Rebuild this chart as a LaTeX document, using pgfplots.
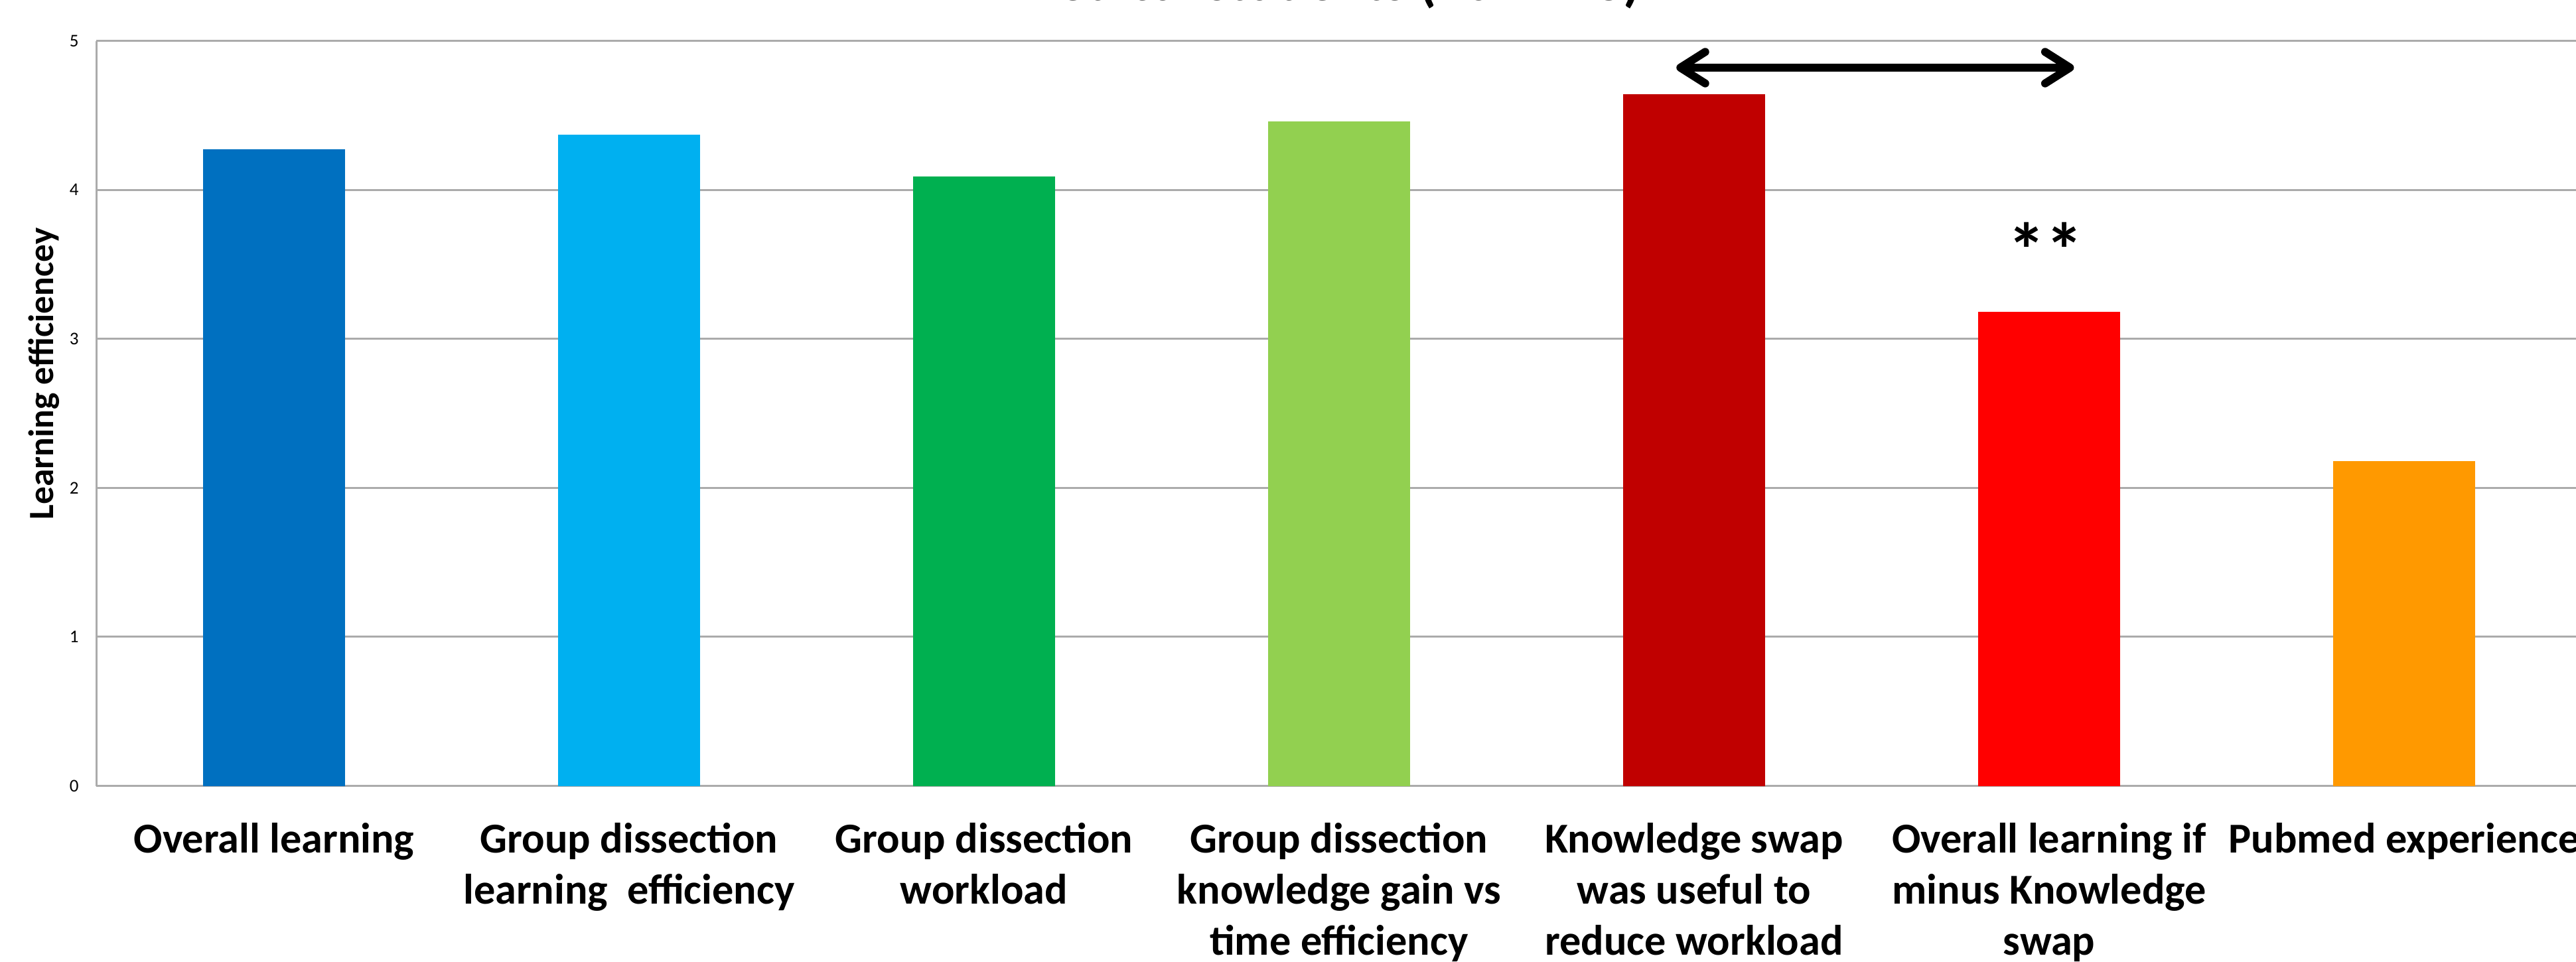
\documentclass[border=0pt]{standalone}
\usepackage{fontspec}
\setmainfont{Carlito}
\usepackage{pgfplots}
\pgfplotsset{compat=1.18}
\usetikzlibrary{arrows.meta}

\definecolor{gridgray}{HTML}{ABABAB}
\definecolor{cA}{HTML}{0070C0}
\definecolor{cB}{HTML}{00B0F0}
\definecolor{cC}{HTML}{00B050}
\definecolor{cD}{HTML}{92D050}
\definecolor{cE}{HTML}{C00000}
\definecolor{cF}{HTML}{FF0000}
\definecolor{cG}{HTML}{FF9900}

\begin{document}
\begin{tikzpicture}
\begin{axis}[
    at={(29.1pt,52.9pt)}, anchor=south west,
    scale only axis,
    width=749pt, height=224.6pt,
    xmin=-0.5, xmax=6.5,
    ymin=0, ymax=5,
    xtick={0,...,6},
    ytick={0,...,5},
    xticklabels={
        {Overall learning},
        {Group dissection\\learning\ \ efficiency},
        {Group dissection\\workload},
        {Group dissection\\knowledge gain vs\\time efficiency},
        {Knowledge swap\\was useful to\\reduce workload},
        {Overall learning if\\minus Knowledge\\swap},
        {Pubmed experience}},
    major tick length=0pt,
    axis x line*=bottom,
    axis y line*=left,
    axis line style={-, draw=gridgray, line width=0.6pt},
    ymajorgrids,
    grid style={draw=gridgray, line width=0.6pt},
    /pgf/number format/assume math mode=true,
    yticklabel style={font=\fontsize{5.4}{6.4}\selectfont, anchor=east, inner sep=0pt, xshift=-5.2pt},
    xticklabel style={font=\bfseries\fontsize{12.85}{15.4}\selectfont, align=center, anchor=north, inner sep=0pt, yshift=-11pt},
    ylabel={Learning efficiencey},
    ylabel style={at={(rel axis cs:0,0.553)}, anchor=center, yshift=15.9pt, font=\bfseries\fontsize{10.7}{13}\selectfont},
    every axis title shift=0pt,
    title={in Medical students (2017-18)},
    title style={at={(rel axis cs:0.483,1)}, anchor=base, yshift=12.2pt, font=\bfseries\fontsize{16.8}{20}\selectfont},
    clip=false,
]
\addplot[ybar, bar width=42.8pt, bar shift=0pt, fill=cA, draw=none] coordinates {(0,4.27)};
\addplot[ybar, bar width=42.8pt, bar shift=0pt, fill=cB, draw=none] coordinates {(1,4.37)};
\addplot[ybar, bar width=42.8pt, bar shift=0pt, fill=cC, draw=none] coordinates {(2,4.09)};
\addplot[ybar, bar width=42.8pt, bar shift=0pt, fill=cD, draw=none] coordinates {(3,4.46)};
\addplot[ybar, bar width=42.8pt, bar shift=0pt, fill=cE, draw=none] coordinates {(4,4.64)};
\addplot[ybar, bar width=42.8pt, bar shift=0pt, fill=cF, draw=none] coordinates {(5,3.18)};
\addplot[ybar, bar width=42.8pt, bar shift=0pt, fill=cG, draw=none] coordinates {(6,2.18)};

% significance marker between swap bars
\draw[line width=2.4pt, line cap=round, {Straight Barb[length=7.5pt, width=9.5pt, round]}-{Straight Barb[length=7.5pt, width=9.5pt, round]}]
    (axis cs:3.95,4.82) -- (axis cs:5.07,4.82);
\node[font=\bfseries\fontsize{23}{25}\selectfont, inner sep=0pt] at (axis cs:4.99,3.60) {**};
\end{axis}
\pgfresetboundingbox
\useasboundingbox (0,0) rectangle (776.4pt,289.8pt);
\end{tikzpicture}
\end{document}
